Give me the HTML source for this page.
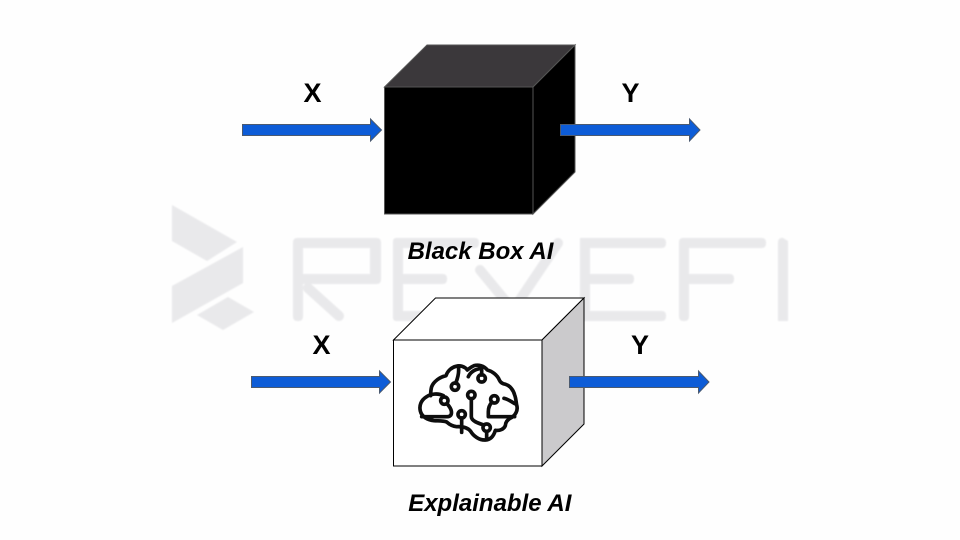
<!DOCTYPE html>
<html><head><meta charset="utf-8"><style>html,body{margin:0;padding:0;background:#fff}svg{display:block}text{font-family:"Liberation Sans",sans-serif;font-weight:bold;fill:#000;text-anchor:middle}</style></head>
<body>
<svg width="960" height="540" viewBox="0 0 960 540" xmlns="http://www.w3.org/2000/svg">
<defs><filter id="b" x="-5%" y="-5%" width="110%" height="110%"><feGaussianBlur stdDeviation="0.7"/></filter><filter id="c" x="-5%" y="-5%" width="110%" height="110%"><feGaussianBlur stdDeviation="0.35"/></filter></defs>
<rect width="960" height="540" fill="#fefefe"/>
<!-- watermark -->
<g filter="url(#b)">
<g fill="#e9e9eb">
<polygon points="172,205 237,242 207,261 172,241"/>
<polygon points="243,247 243,283 172,323 172,286"/>
<polygon points="228,297 254,312 223,330 197,315"/>
<rect x="679" y="238" width="10" height="83" rx="4"/>
<rect x="679" y="238" width="87" height="10" rx="4"/>
<rect x="679" y="274" width="55" height="10" rx="4"/>
<path d="M778 242a4 4 0 0 1 5-4l5 3v80h-10z"/>
<rect x="580" y="238" width="86" height="10" rx="4"/>
<rect x="580" y="238" width="10" height="83"/>
<rect x="580" y="274" width="54" height="10" rx="4"/>
<rect x="580" y="311" width="86" height="10" rx="4"/>
<rect x="393" y="238" width="10" height="83" rx="3"/>
<rect x="393" y="238" width="86" height="10" rx="4"/>
<rect x="393" y="274" width="54" height="10" rx="4"/>
<rect x="393" y="311" width="40" height="10" rx="4"/>
<path d="M293 242a4 4 0 0 1 4-4h80a4 4 0 0 1 4 4v38a4 4 0 0 1-4 4h-74v33a4 4 0 0 1-4 4h-2a4 4 0 0 1-4-4zM303 248v26h67v-26z" fill-rule="evenodd"/>
</g>
<g stroke="#e9e9eb" stroke-width="10" stroke-linecap="round" fill="none">
<path d="M308 288L339 316"/>
<path d="M480 270L513 310L558 243"/>
</g>
</g>
<g filter="url(#c)">
<!-- black cube -->
<polygon points="384.5,87 427,45 575,45 533,87" fill="#3a383a" stroke="#555" stroke-width="1"/>
<polygon points="533,87 575,45 575,172 533,214" fill="#000" stroke="#555" stroke-width="1"/>
<rect x="384.5" y="87" width="148.5" height="127" fill="#000" stroke="#555" stroke-width="1"/>
<!-- white cube -->
<polygon points="393.5,340 435.5,298 584,298 542,340" fill="#fff" stroke="#000" stroke-width="1"/>
<polygon points="542,340 584,298 584,424 542,466" fill="#cbcacc" stroke="#000" stroke-width="1"/>
<rect x="393.5" y="340" width="148.5" height="126" fill="#fff" stroke="#000" stroke-width="1"/>
<!-- brain -->
<g transform="translate(410 355) scale(.3333)" fill="none" stroke="#0c0c0c" stroke-width="11" stroke-linecap="round" stroke-linejoin="round">
<path d="M100 122C85 114 62 116 50 125C33 135 27 152 31 168C35 185 52 195 72 197C85 198 100 197 110 201C120 210 128 214 140 215C160 214 175 220 182 229C190 243 208 256 226 255C243 254 252 240 256 226C270 228 282 222 286 212C287 200 292 196 300 190C317 182 325 165 320 150C318 140 318 130 314 120C310 105 300 92 287 88C280 87 272 84 268 75C262 60 245 48 232 45C222 32 205 28 192 32C184 35 178 40 172 45C165 35 150 30 138 34C122 38 112 50 108 62C90 66 72 78 65 95C62 105 62 115 62 122"/>
<path d="M145 34C148 50 145 65 137 85"/>
<circle cx="135" cy="95" r="11"/>
<path d="M175 65C182 50 198 42 215 40V60"/>
<circle cx="215" cy="70" r="11"/>
<circle cx="103" cy="137" r="11"/>
<path d="M35 185H112C122 185 126 178 124 168C122 158 116 152 111 146"/>
<circle cx="184" cy="120" r="11"/>
<path d="M184 131V185C184 198 205 205 222 210"/>
<circle cx="230" cy="218" r="11"/>
<path d="M230 229V254"/>
<circle cx="155" cy="178" r="11"/>
<path d="M155 189V232"/>
<circle cx="253" cy="133" r="11"/>
<path d="M246 141C238 150 235 158 235 170V185H314"/>
<path d="M282 130C292 132 302 138 314 146"/>
</g>
<!-- arrows -->
<g fill="#0b5bd7" stroke="#4b5a70" stroke-width="1">
<polygon points="242.5,124.5 370.5,124.5 370.5,119 381.5,130 370.5,141 370.5,135.5 242.5,135.5"/>
<polygon points="560.5,124.5 689.5,124.5 689.5,119 700,130 689.5,141 689.5,135.5 560.5,135.5"/>
<polygon points="251.5,376.5 379.5,376.5 379.5,371 390.5,382 379.5,393 379.5,387.5 251.5,387.5"/>
<polygon points="569.5,376.5 698.5,376.5 698.5,371 709,382 698.5,393 698.5,387.5 569.5,387.5"/>
</g>
<!-- labels -->
<text x="312.5" y="102" font-size="27">X</text>
<text x="630.5" y="102" font-size="27">Y</text>
<text x="321.5" y="354" font-size="27">X</text>
<text x="640" y="354" font-size="27">Y</text>
<text x="480.5" y="259" font-size="24" font-style="italic">Black Box AI</text>
<text x="489.8" y="511" font-size="24" font-style="italic">Explainable AI</text>
</g>
</svg>
</body></html>
